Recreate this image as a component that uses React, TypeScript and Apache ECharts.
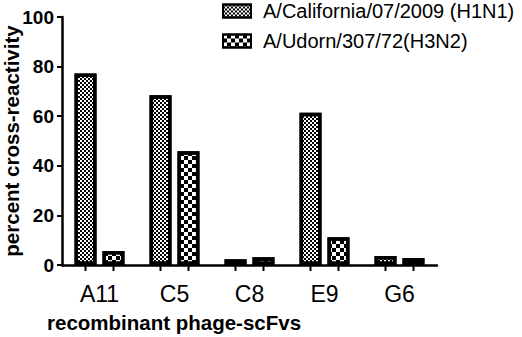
import React, { useEffect, useRef } from "react";
import * as echarts from "echarts";

const categories = ["A11", "C5", "C8", "E9", "G6"];
const seriesNames = ["A/California/07/2009 (H1N1)", "A/Udorn/307/72(H3N2)"];
const h1n1 = [77.2, 68.4, 2.3, 61.4, 3.6];
const h3n2 = [5.6, 45.9, 3.1, 11.2, 2.8];
const yTicks = { min: 0, max: 100, interval: 20 };

export default function App() {
  const ref = useRef<HTMLDivElement>(null);
  useEffect(() => {
    document.body.style.margin = "0";
    const chart = echarts.init(ref.current!, null, { renderer: "svg" });
    const font = "Liberation Sans, Arial, sans-serif";
    const fineDecal = {
      symbol: "rect",
      symbolSize: 1,
      color: "#000",
      dashArrayX: [[2, 2], [0, 2, 2, 0]],
      dashArrayY: [2, 0],
      rotation: 0,
    };
    const coarseDecal = {
      symbol: "rect",
      symbolSize: 1,
      color: "#000",
      dashArrayX: [[4, 4], [0, 4, 4, 0]],
      dashArrayY: [4, 0],
      rotation: 0,
    };
    chart.setOption({
      animation: false,
      backgroundColor: "#fff",
      grid: {
        left: 62,
        right: 85,
        top: 17,
        bottom: 72,
        containLabel: false,
        outerBoundsMode: "none",
      },
      legend: {
        data: seriesNames,
        orient: "vertical",
        left: 222,
        top: 1,
        padding: 0,
        itemWidth: 28,
        itemHeight: 13,
        itemGap: 10,
        icon: "rect",
        textStyle: { fontFamily: font, fontSize: 20, color: "#000", padding: [0, 0, 0, 7] },
      },
      xAxis: {
        type: "category",
        data: categories,
        axisLine: { lineStyle: { color: "#000", width: 2.5 } },
        axisTick: { show: false },
        axisLabel: {
          fontFamily: font,
          fontSize: 23,
          color: "#000",
          margin: 17,
        },
      },
      yAxis: {
        type: "value",
        min: yTicks.min,
        max: yTicks.max,
        interval: yTicks.interval,
        name: "percent cross-reactivity",
        nameLocation: "middle",
        nameGap: 40,
        nameMoveOverlap: false,
        nameTextStyle: {
          fontFamily: font,
          fontSize: 20.5,
          fontWeight: "bold",
          color: "#000",
        },
        splitLine: { show: false },
        axisLine: { show: true, lineStyle: { color: "#000", width: 2.5 } },
        axisTick: { show: true, length: 5, lineStyle: { color: "#000", width: 2 } },
        axisLabel: {
          fontFamily: font,
          fontSize: 19,
          fontWeight: "bold",
          color: "#000",
          margin: 8,
        },
      },
      graphic: [
        {
          type: "text",
          left: 47,
          top: 312,
          style: {
            text: "recombinant phage-scFvs",
            font: `bold 20.5px ${font}`,
            fill: "#000",
          },
        },
      ],
      series: [
        {
          name: seriesNames[0],
          type: "bar",
          data: h1n1,
          barWidth: 22,
          barGap: "27%",
          itemStyle: {
            color: "#fff",
            borderColor: "#000",
            borderWidth: 3.5,
            decal: fineDecal,
          },
        },
        {
          name: seriesNames[1],
          type: "bar",
          data: h3n2,
          barWidth: 22,
          barGap: "27%",
          itemStyle: {
            color: "#fff",
            borderColor: "#000",
            borderWidth: 3.5,
            decal: coarseDecal,
          },
        },
        {
          name: "ticks",
          type: "custom",
          data: categories.map((_, i) => [i, 0]),
          clip: false,
          z: 5,
          renderItem: (params: any, api: any) => {
            const p = api.coord([api.value(0), 0]);
            const off = 14;
            return {
              type: "group",
              children: [-off, off].map((d) => ({
                type: "line",
                shape: { x1: p[0] + d, y1: p[1], x2: p[0] + d, y2: p[1] + 6 },
                style: { stroke: "#000", lineWidth: 2 },
              })),
            };
          },
        },
      ],
    });
    return () => chart.dispose();
  }, []);
  return <div ref={ref} style={{ width: 522, height: 337 }} />;
}
